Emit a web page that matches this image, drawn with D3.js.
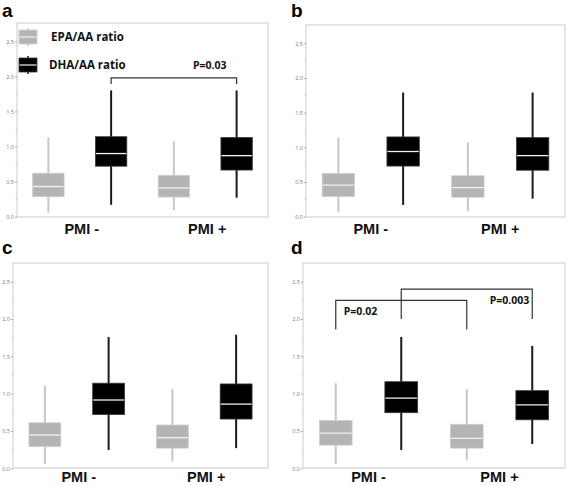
<!DOCTYPE html>
<html><head><meta charset="utf-8">
<script src="https://cdn.jsdelivr.net/npm/d3@7"></script>
<style>
html,body{margin:0;padding:0;background:#fff;}
svg{display:block;font-family:"Open Sans",Arial,sans-serif;}
</style></head>
<body>
<svg id="chart" width="567" height="486"></svg>
<script>
// ---- data ----
const categories = ["PMI -", "PMI +"];
const series = ["EPA/AA ratio", "DHA/AA ratio"];
const yTicks = [0, 0.5, 1.0, 1.5, 2.0, 2.5];
const yTickLabels = ["0.0", "0.5", "1.0", "1.5", "2.0", "2.5"];
const panelLetters = ["a", "b", "c", "d"];
// [whiskerLow, q1, median, q3, whiskerHigh] per category, per series
const panelA_EPA = [[0.06, 0.285, 0.43, 0.62, 1.13], [0.095, 0.28, 0.41, 0.59, 1.07]];
const panelA_DHA = [[0.17, 0.72, 0.90, 1.14, 1.80], [0.27, 0.665, 0.87, 1.13, 1.80]];
const panelB_EPA = [[0.06, 0.29, 0.455, 0.625, 1.14], [0.08, 0.28, 0.42, 0.59, 1.07]];
const panelB_DHA = [[0.17, 0.73, 0.94, 1.15, 1.79], [0.26, 0.67, 0.88, 1.14, 1.79]];
const panelC_EPA = [[0.058, 0.29, 0.445, 0.61, 1.11], [0.09, 0.27, 0.41, 0.58, 1.06]];
const panelC_DHA = [[0.245, 0.72, 0.915, 1.14, 1.76], [0.27, 0.66, 0.86, 1.13, 1.79]];
const panelD_EPA = [[0.058, 0.31, 0.47, 0.64, 1.14], [0.11, 0.27, 0.40, 0.59, 1.06]];
const panelD_DHA = [[0.245, 0.745, 0.94, 1.16, 1.76], [0.325, 0.65, 0.85, 1.04, 1.64]];
// significance brackets: [fromCategory, fromSeries, toCategory, toSeries, barLevel, legLevel, label]
const bracketsA = [[0, 1, 1, 1, 1.98, 1.89, "P=0.03"]];
const bracketsD = [[0, 0, 1, 0, 2.25, 1.86, "P=0.02"], [0, 1, 1, 1, 2.40, 2.00, "P=0.003"]];

const panels = [
  {EPA: panelA_EPA, DHA: panelA_DHA, br: bracketsA,
   box: {x0: 17, x1: 268, top: 23, bottom: 217, y0: 216.7, y25: 41.3}, letter: {x: 2, y: 17}, labY: 234},
  {EPA: panelB_EPA, DHA: panelB_DHA, br: [],
   box: {x0: 306, x1: 565, top: 25, bottom: 217, y0: 216.7, y25: 43.3}, letter: {x: 291, y: 17}, labY: 234},
  {EPA: panelC_EPA, DHA: panelC_DHA, br: [],
   box: {x0: 13, x1: 268, top: 263, bottom: 468, y0: 468.3, y25: 281.7}, letter: {x: 2, y: 254}, labY: 482},
  {EPA: panelD_EPA, DHA: panelD_DHA, br: bracketsD,
   box: {x0: 303, x1: 565, top: 263, bottom: 468, y0: 468.3, y25: 281.7}, letter: {x: 291, y: 254}, labY: 482}
];

const colors = {
  "EPA/AA ratio": {fill: "#b4b4b4", stroke: "#cfcfcf", whisker: "#c6c6c6"},
  "DHA/AA ratio": {fill: "#000000", stroke: "#3a3a3a", whisker: "#1a1a1a"}
};

const svg = d3.select("#chart");

function scalesFor(p) {
  const b = p.box;
  const y = d3.scaleLinear().domain([0, 2.5]).range([b.y0, b.y25]);
  const x = d3.scaleBand().domain(categories).range([b.x0, b.x1]).padding(0);
  const xs = d3.scaleBand().domain(series).range([0, x.bandwidth()])
    .paddingInner(0.5).paddingOuter(0.25);
  return {x, y, xs};
}

panels.forEach((p, i) => {
  const g = svg.append("g");
  const b = p.box;
  const {x, y, xs} = scalesFor(p);

  // frame
  g.append("rect").attr("x", b.x0).attr("y", b.top)
    .attr("width", b.x1 - b.x0).attr("height", b.bottom - b.top)
    .attr("fill", "none").attr("stroke", "#d4d4d4").attr("stroke-width", 1.2);

  // y axis
  const axis = d3.axisLeft(y).tickValues(yTicks)
    .tickFormat((d, k) => yTickLabels[k]).tickSize(2).tickPadding(1);
  const ag = g.append("g").attr("transform", `translate(${b.x0},0)`).call(axis);
  ag.select(".domain").remove();
  ag.selectAll(".tick line").attr("stroke", "#aaa");
  ag.selectAll(".tick text").attr("fill", "#777").attr("font-size", 5.5)
    .attr("font-family", "Open Sans, Arial, sans-serif");
  // minor ticks
  const minor = d3.range(0.25, 2.6, 0.5);
  g.selectAll(".minor").data(minor).join("line")
    .attr("x1", b.x0 - 1.5).attr("x2", b.x0)
    .attr("y1", d => y(d)).attr("y2", d => y(d))
    .attr("stroke", "#bbb").attr("stroke-width", 0.7);

  // boxes
  series.forEach(s => {
    const data = s === series[0] ? p.EPA : p.DHA;
    const c = colors[s];
    categories.forEach((cat, ci) => {
      const st = data[ci];
      const bx = x(cat) + xs(s);
      const bw = xs.bandwidth();
      const cx = bx + bw / 2;
      g.append("line").attr("x1", cx).attr("x2", cx)
        .attr("y1", y(st[0])).attr("y2", y(st[4]))
        .attr("stroke", c.whisker).attr("stroke-width", 2);
      g.append("rect").attr("x", bx).attr("y", y(st[3]))
        .attr("width", bw).attr("height", y(st[1]) - y(st[3]))
        .attr("fill", c.fill).attr("stroke", c.stroke).attr("stroke-width", 0.8);
      g.append("line").attr("x1", bx + 0.5).attr("x2", bx + bw - 0.5)
        .attr("y1", y(st[2])).attr("y2", y(st[2]))
        .attr("stroke", "#f2f2f2").attr("stroke-width", 1.3);
    });
  });

  // brackets
  p.br.forEach(br => {
    const xa = x(categories[br[0]]) + xs(series[br[1]]) + xs.bandwidth() / 2;
    const xb = x(categories[br[2]]) + xs(series[br[3]]) + xs.bandwidth() / 2;
    const yb = y(br[4]), yl = y(br[5]);
    g.append("path").attr("d", `M${xa},${yl}V${yb}H${xb}V${yl}`)
      .attr("fill", "none").attr("stroke", "#333").attr("stroke-width", 1.2);
  });

  // category labels
  g.selectAll(".cat").data(categories).join("text")
    .attr("x", d => x(d) + x.bandwidth() / 2 + (i % 2 === 0 ? 2 : 0))
    .attr("y", p.labY).attr("text-anchor", "middle")
    .attr("font-family", "Liberation Sans, Arial, sans-serif")
    .attr("font-size", 14.5).attr("font-weight", 700).attr("fill", "#111")
    .text(d => d);

  // panel letter
  g.append("text").attr("x", p.letter.x).attr("y", p.letter.y)
    .attr("font-family", "Liberation Sans, Arial, sans-serif")
    .attr("font-size", 19).attr("font-weight", 700).attr("fill", "#000")
    .text(panelLetters[i]);
});

// P-value labels (positioned relative to brackets)
function addPLabel(p, br, dx, anchor, dy) {
  const {x, y, xs} = scalesFor(p);
  const xa = x(categories[br[0]]) + xs(series[br[1]]) + xs.bandwidth() / 2;
  const xb = x(categories[br[2]]) + xs(series[br[3]]) + xs.bandwidth() / 2;
  svg.append("text")
    .attr("x", anchor === "start" ? xa + dx : xb + dx)
    .attr("y", y(br[4]) + dy)
    .attr("text-anchor", anchor === "start" ? "start" : "end")
    .attr("font-size", 10.5).attr("font-weight", 700).attr("fill", "#111")
    .text(br[6]);
}
addPLabel(panels[0], bracketsA[0], -10, "end", -9);
addPLabel(panels[3], bracketsD[0], 8, "start", 15);
addPLabel(panels[3], bracketsD[1], -3, "end", 15);

// legend (panel a)
(function () {
  const lg = svg.append("g");
  const ly = d3.scalePoint().domain(series).range([37, 65]);
  series.forEach(s => {
    const c = colors[s];
    const cy = ly(s);
    lg.append("line").attr("x1", 28).attr("x2", 28).attr("y1", cy - 9).attr("y2", cy + 9)
      .attr("stroke", c.whisker).attr("stroke-width", 1.5);
    lg.append("rect").attr("x", 19).attr("y", cy - 7).attr("width", 18).attr("height", 14)
      .attr("fill", c.fill).attr("stroke", c.stroke).attr("stroke-width", 0.8);
    lg.append("line").attr("x1", 19.5).attr("x2", 36.5).attr("y1", cy).attr("y2", cy)
      .attr("stroke", "#f2f2f2").attr("stroke-width", 1.2);
    lg.append("text").attr("x", s === series[0] ? 51 : 49).attr("y", cy + 4)
      .attr("font-size", 11.5).attr("font-weight", 700).attr("fill", "#111").text(s);
  });
})();
</script>
</body></html>
